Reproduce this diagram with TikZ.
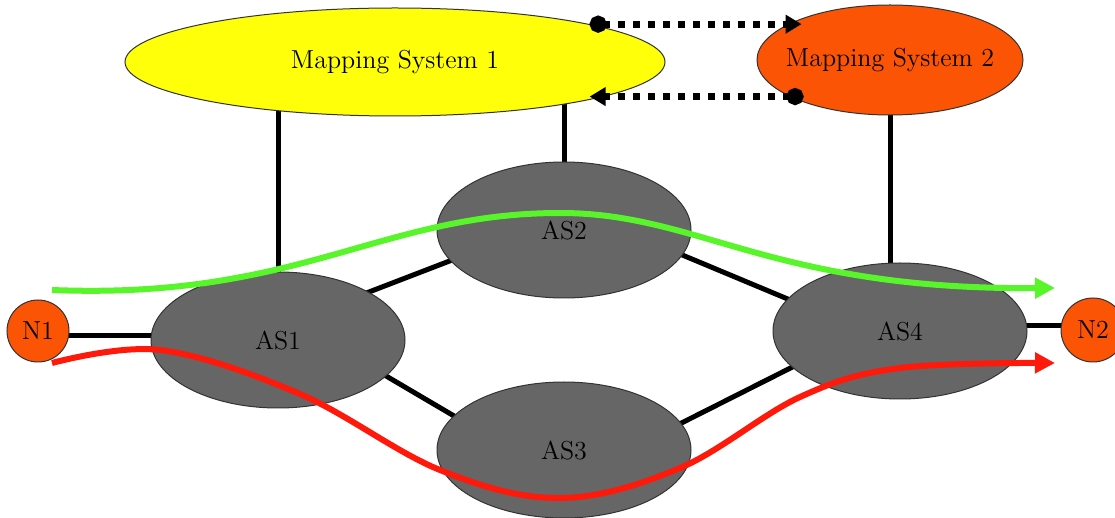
\documentclass[tikz,border=0pt]{standalone}
\usetikzlibrary{shapes.geometric,arrows.meta,calc}
\pgfdeclarelayer{background}
\pgfsetlayers{background,main}
\definecolor{msyellow}{RGB}{255,255,10}
\definecolor{msorange}{RGB}{252,84,5}
\definecolor{asgray}{RGB}{102,102,102}
\definecolor{pathgreen}{RGB}{88,245,42}
\definecolor{pathred}{RGB}{255,25,10}
\begin{document}
\begin{tikzpicture}[x=0.5pt,y=-0.5pt,
  every node/.style={font=\fontsize{13}{15}\selectfont, text=black},
  msbox/.style={ellipse, draw=black!80, line width=0.5pt, inner sep=0pt},
  asbox/.style={ellipse, draw=black!80, fill=asgray, line width=0.5pt,
    minimum width=127pt, minimum height=68pt, inner sep=0pt},
  endpt/.style={circle, draw=black!80, fill=msorange, line width=0.5pt, inner sep=0pt},
  link/.style={line width=2.5pt, black},
  dotlink/.style={line width=3.5pt, dash pattern=on 3.5pt off 4pt,
    {Circle[length=8.5pt]}-{Triangle[length=8pt,width=9pt]}},
  route/.style={line width=3pt, -{Triangle[length=10pt,width=10pt]}}
]
\useasboundingbox (0,0) rectangle (1115,518);

\node[msbox, fill=msyellow, minimum width=270pt, minimum height=54pt] (MS1) at (395,62) {Mapping System 1};
\node[msbox, fill=msorange, inner xsep=-8pt, minimum width=133pt, minimum height=55pt] (MS2) at (890,60) {Mapping System 2};
\node[asbox] (AS1) at (278,340) {AS1};
\node[asbox] (AS2) at (564,230) {AS2};
\node[asbox] (AS3) at (564,450) {AS3};
\node[asbox] (AS4) at (900,331) {AS4};
\node[endpt, minimum size=31pt] (N1) at (38,331) {N1};
\node[endpt, minimum size=32pt] (N2) at (1093,330) {N2};

\begin{pgfonlayer}{background}
  \draw[link] (AS1.center) -- (AS1.center |- MS1.center);
  \draw[link] (AS2.center) -- (AS2.center |- MS1.center);
  \draw[link] (AS4.center -| MS2.center) -- (MS2.center);
  \draw[link] ([shift={(0,5)}]N1.center) -- ([shift={(0,5)}]N1.center -| AS1.center);
  \draw[link] ([shift={(0,-4)}]N2.center -| AS4.center) -- ([shift={(0,-4)}]N2.center);
  \draw[link] ([shift={(0,-13)}]AS1.center) -- ([shift={(0,-13)}]AS2.center);
  \draw[link] ([shift={(52,3)}]AS1.center) -- ([shift={(-64,-7)}]AS3.center);
  \draw[link] ([shift={(56,-1)}]AS2.center) -- ([shift={(-50,-6)}]AS4.center);
  \draw[link] ([shift={(56,4)}]AS3.center) -- ([shift={(-50,7)}]AS4.center);
\end{pgfonlayer}

\coordinate (d1) at ($(MS1.11 -| MS2.160)+(12,0)$);
\coordinate (d2) at ($(MS2.200)+(14,0)$);
\draw[dotlink] (MS1.11) -- (d1);
\draw[dotlink] (d2) -- (d2 -| MS1.349);

\coordinate (g0) at (52,290);
\coordinate (g1) at (1055,288);
\draw[route, pathgreen] (g0) .. controls (300,300) and (380,213) .. (560,213)
  .. controls (700,213) and (770,290) .. (g1);

\draw[route, pathred] plot[smooth, tension=0.6] coordinates
  {(52,363) (160,350) (300,394) (440,470) (560,498) (680,468) (800,397) (900,368) (1055,363)};
\end{tikzpicture}
\end{document}
